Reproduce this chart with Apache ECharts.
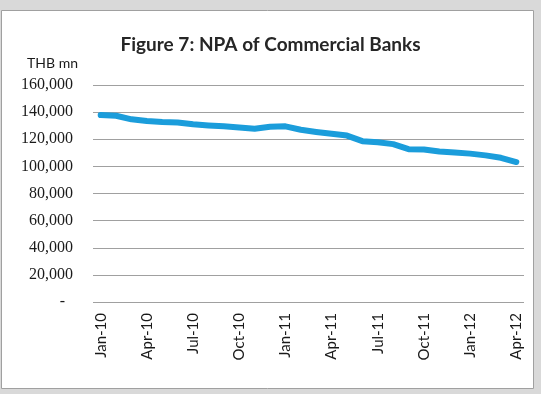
<!DOCTYPE html>
<html><head><meta charset="utf-8">
<script src="https://cdn.jsdelivr.net/npm/echarts@6/dist/echarts.min.js"></script>
<style>html,body{margin:0;padding:0;background:#d9d9d9;}#c{width:541px;height:394px;}</style>
</head><body><div id="c"></div>
<script>
const categories = ['Jan-10','Feb-10','Mar-10','Apr-10','May-10','Jun-10','Jul-10','Aug-10','Sep-10','Oct-10','Nov-10','Dec-10',
  'Jan-11','Feb-11','Mar-11','Apr-11','May-11','Jun-11','Jul-11','Aug-11','Sep-11','Oct-11','Nov-11','Dec-11',
  'Jan-12','Feb-12','Mar-12','Apr-12'];
const npa = [137800,137300,134700,133400,132700,132400,131000,130200,129500,128700,127800,129200,
  129500,127000,125400,124000,122700,118600,117800,116400,112700,112500,111000,110200,
  109400,108100,106300,103200];
const yTicks = {min:0, max:160000, interval:20000};

const chart = echarts.init(document.getElementById('c'));
chart.setOption({
  animation:false,
  backgroundColor:'#d9d9d9',
  graphic:[{type:'rect', z:-10, shape:{x:1.5,y:10.5,width:532,height:378}, style:{fill:'#ffffff', stroke:'#a0a0a0', lineWidth:1}}],
  title:{text:'Figure 7: NPA of Commercial Banks', left:'center', top:30,
    textStyle:{fontFamily:'Lato', fontWeight:'bold', fontSize:19, color:'#262626'}},
  grid:{left:93, right:17, top:85, bottom:92},
  xAxis:{type:'category', data:categories, boundaryGap:true,
    axisLine:{show:false}, axisTick:{show:false},
    axisLabel:{interval:2, rotate:90, margin:11, fontFamily:'Lato', fontSize:15, color:'#1a1a1a'}},
  yAxis:{type:'value', min:yTicks.min, max:yTicks.max, interval:yTicks.interval,
    name:'THB mn', nameLocation:'end', nameGap:15,
    nameTextStyle:{fontFamily:'Lato', fontSize:14, color:'#1a1a1a', align:'right', padding:[0,15,0,0]},
    axisLine:{show:false}, axisTick:{show:false},
    splitLine:{lineStyle:{color:'#a0a0a0', width:1}},
    axisLabel:{margin:20, fontFamily:'Liberation Serif', fontSize:16, color:'#1a1a1a',
      formatter:v => v === 0 ? '-  ' : v.toLocaleString('en-US')}},
  series:[{type:'line', data:npa, symbol:'none', lineStyle:{color:'#1b9ddb', width:6, cap:'round', join:'round'}}]
});
</script></body></html>
